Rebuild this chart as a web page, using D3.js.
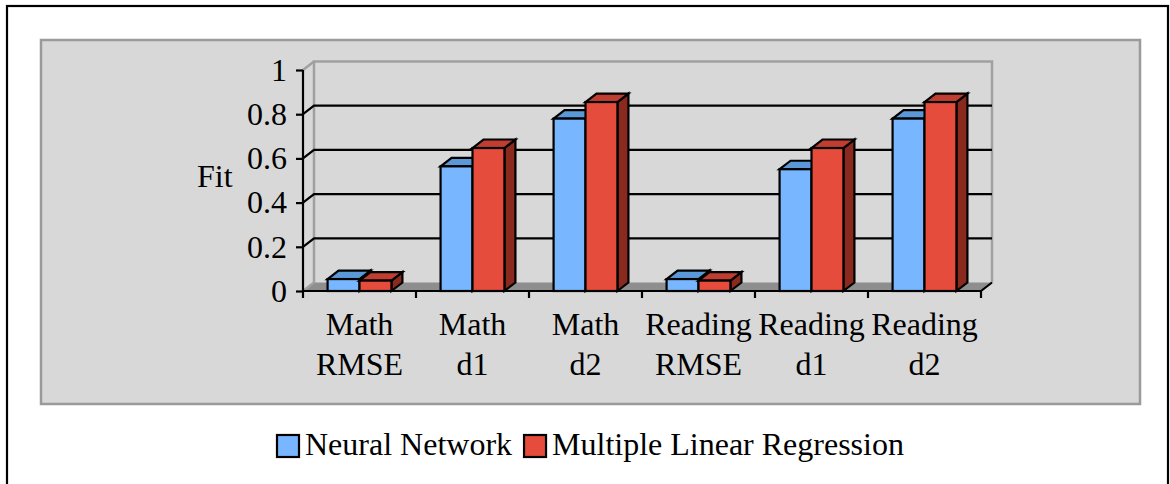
<!DOCTYPE html>
<html><head><meta charset="utf-8">
<script src="https://cdn.jsdelivr.net/npm/d3@7"></script>
<style>body{margin:0;background:#fff}svg{display:block}</style>
</head><body>
<svg id="c" width="1170" height="484"></svg>
<script>
const categories = [["Math","RMSE"],["Math","d1"],["Math","d2"],["Reading","RMSE"],["Reading","d1"],["Reading","d2"]];
const seriesNames = ["Neural Network","Multiple Linear Regression"];
const neuralNetwork = [0.054, 0.564, 0.78, 0.054, 0.551, 0.78];
const multipleLinearRegression = [0.047, 0.647, 0.855, 0.047, 0.647, 0.855];
const yTicks = [0, 0.2, 0.4, 0.6, 0.8, 1];
const yLabel = "Fit";

const series = [neuralNetwork, multipleLinearRegression];
const colors = [
  {front:"#78b7ff", top:"#5b98d8", side:"#3f72a8"},
  {front:"#e64c3c", top:"#c03d31", side:"#8a2a1f"}
];
const FONT = "'Liberation Serif','Times New Roman',serif";
const FS = 32;
const svg = d3.select("#c");

// frame
svg.append("rect").attr("x",7).attr("y",6).attr("width",1161).attr("height",490)
  .attr("fill","#fff").attr("stroke","#000").attr("stroke-width",2.2);
svg.append("rect").attr("x",41).attr("y",40).attr("width",1099).attr("height",364)
  .attr("fill","#d8d8d8").attr("stroke","#9a9a9a").attr("stroke-width",2.5);

const x0 = 303, x1 = 981, DX = 11, DY = -8.5;
const y = d3.scaleLinear().domain([0,1]).range([291,70]);
const xc = d3.scaleBand().domain(d3.range(categories.length)).range([x0,x1]).padding(0);
const xs = d3.scaleBand().domain(d3.range(series.length)).range([0,xc.bandwidth()]).paddingInner(0).paddingOuter(0.77);

const g = svg.append("g");
// floor
g.append("path").attr("d",`M${x0},${y(0)}L${x1},${y(0)}L${x1+DX},${y(0)+DY}L${x0+DX},${y(0)+DY}Z`)
  .attr("fill","#8e8e8e");
// back wall outline
g.append("path").attr("d",`M${x0},${y(0)}L${x0+DX},${y(0)+DY}L${x0+DX},${y(1)+DY}L${x1+DX},${y(1)+DY}L${x1+DX},${y(0)+DY}`)
  .attr("fill","none").attr("stroke","#a0a0a0").attr("stroke-width",2.5);
g.append("path").attr("d",`M${x0},${y(1)}L${x0+DX},${y(1)+DY}`).attr("stroke","#a0a0a0").attr("stroke-width",2.5);
// gridlines
yTicks.filter(t=>t>0 && t<1).forEach(t=>{
  g.append("path").attr("d",`M${x0},${y(t)}L${x0+DX},${y(t)+DY}L${x1+DX},${y(t)+DY}`)
    .attr("fill","none").attr("stroke","#000").attr("stroke-width",2.2);
});

// bars
categories.forEach((c,i)=>{
  series.forEach((s,j)=>{
    const v = s[i], col = colors[j];
    const bx = xc(i)+xs(j), bw = xs.bandwidth(), by = y(v), b0 = y(0);
    const bg = g.append("g").attr("stroke","#000").attr("stroke-width",2.2).attr("stroke-linejoin","miter");
    bg.append("path").attr("d",`M${bx+bw},${b0}L${bx+bw+DX},${b0+DY}L${bx+bw+DX},${by+DY}L${bx+bw},${by}Z`).attr("fill",col.side);
    bg.append("path").attr("d",`M${bx},${by}L${bx+DX},${by+DY}L${bx+bw+DX},${by+DY}L${bx+bw},${by}Z`).attr("fill",col.top);
    bg.append("rect").attr("x",bx).attr("y",by).attr("width",bw).attr("height",b0-by).attr("fill",col.front);
  });
});

// x axis
g.append("path").attr("d",`M${x0},${y(0)}L${x1},${y(0)}L${x1+DX},${y(0)+DY}`)
  .attr("fill","none").attr("stroke","#000").attr("stroke-width",2.2);
d3.range(categories.length+1).forEach(k=>{
  const xx = k<categories.length ? xc(k) : x1;
  g.append("line").attr("x1",xx).attr("x2",xx).attr("y1",y(0)).attr("y2",y(0)+7).attr("stroke","#000").attr("stroke-width",2.2);
});
categories.forEach((c,i)=>{
  const t = g.append("text").attr("x",xc(i)+xc.bandwidth()/2).attr("text-anchor","middle")
    .attr("font-family",FONT).attr("font-size",FS).attr("fill","#000");
  t.append("tspan").attr("x",xc(i)+xc.bandwidth()/2).attr("y",335).text(c[0]);
  t.append("tspan").attr("x",xc(i)+xc.bandwidth()/2).attr("y",375).text(c[1]);
});

// y axis
const ya = svg.append("g").attr("transform",`translate(${x0},0)`)
  .call(d3.axisLeft(y).tickValues(yTicks).tickFormat(d3.format("~g")).tickSize(7).tickPadding(9));
ya.select(".domain").remove();
ya.selectAll("line").attr("stroke","#000").attr("stroke-width",2.2);
ya.selectAll("text").attr("font-family",FONT).attr("font-size",FS).attr("fill","#000");
svg.append("line").attr("x1",x0).attr("x2",x0).attr("y1",y(1)).attr("y2",y(0)).attr("stroke","#000").attr("stroke-width",2.2);
svg.append("text").attr("x",197).attr("y",187).attr("font-family",FONT).attr("font-size",FS).text(yLabel);

// legend
const lg = svg.append("g");
let lx = 277;
seriesNames.forEach((n,j)=>{
  lg.append("rect").attr("x",lx).attr("y",435).attr("width",22).attr("height",22)
    .attr("fill",colors[j].front).attr("stroke","#000").attr("stroke-width",2.2);
  const t = lg.append("text").attr("x",lx+28).attr("y",455).attr("font-family",FONT).attr("font-size",FS).text(n);
  lx = lx + 28 + t.node().getComputedTextLength() + 12;
});
</script>
</body></html>
